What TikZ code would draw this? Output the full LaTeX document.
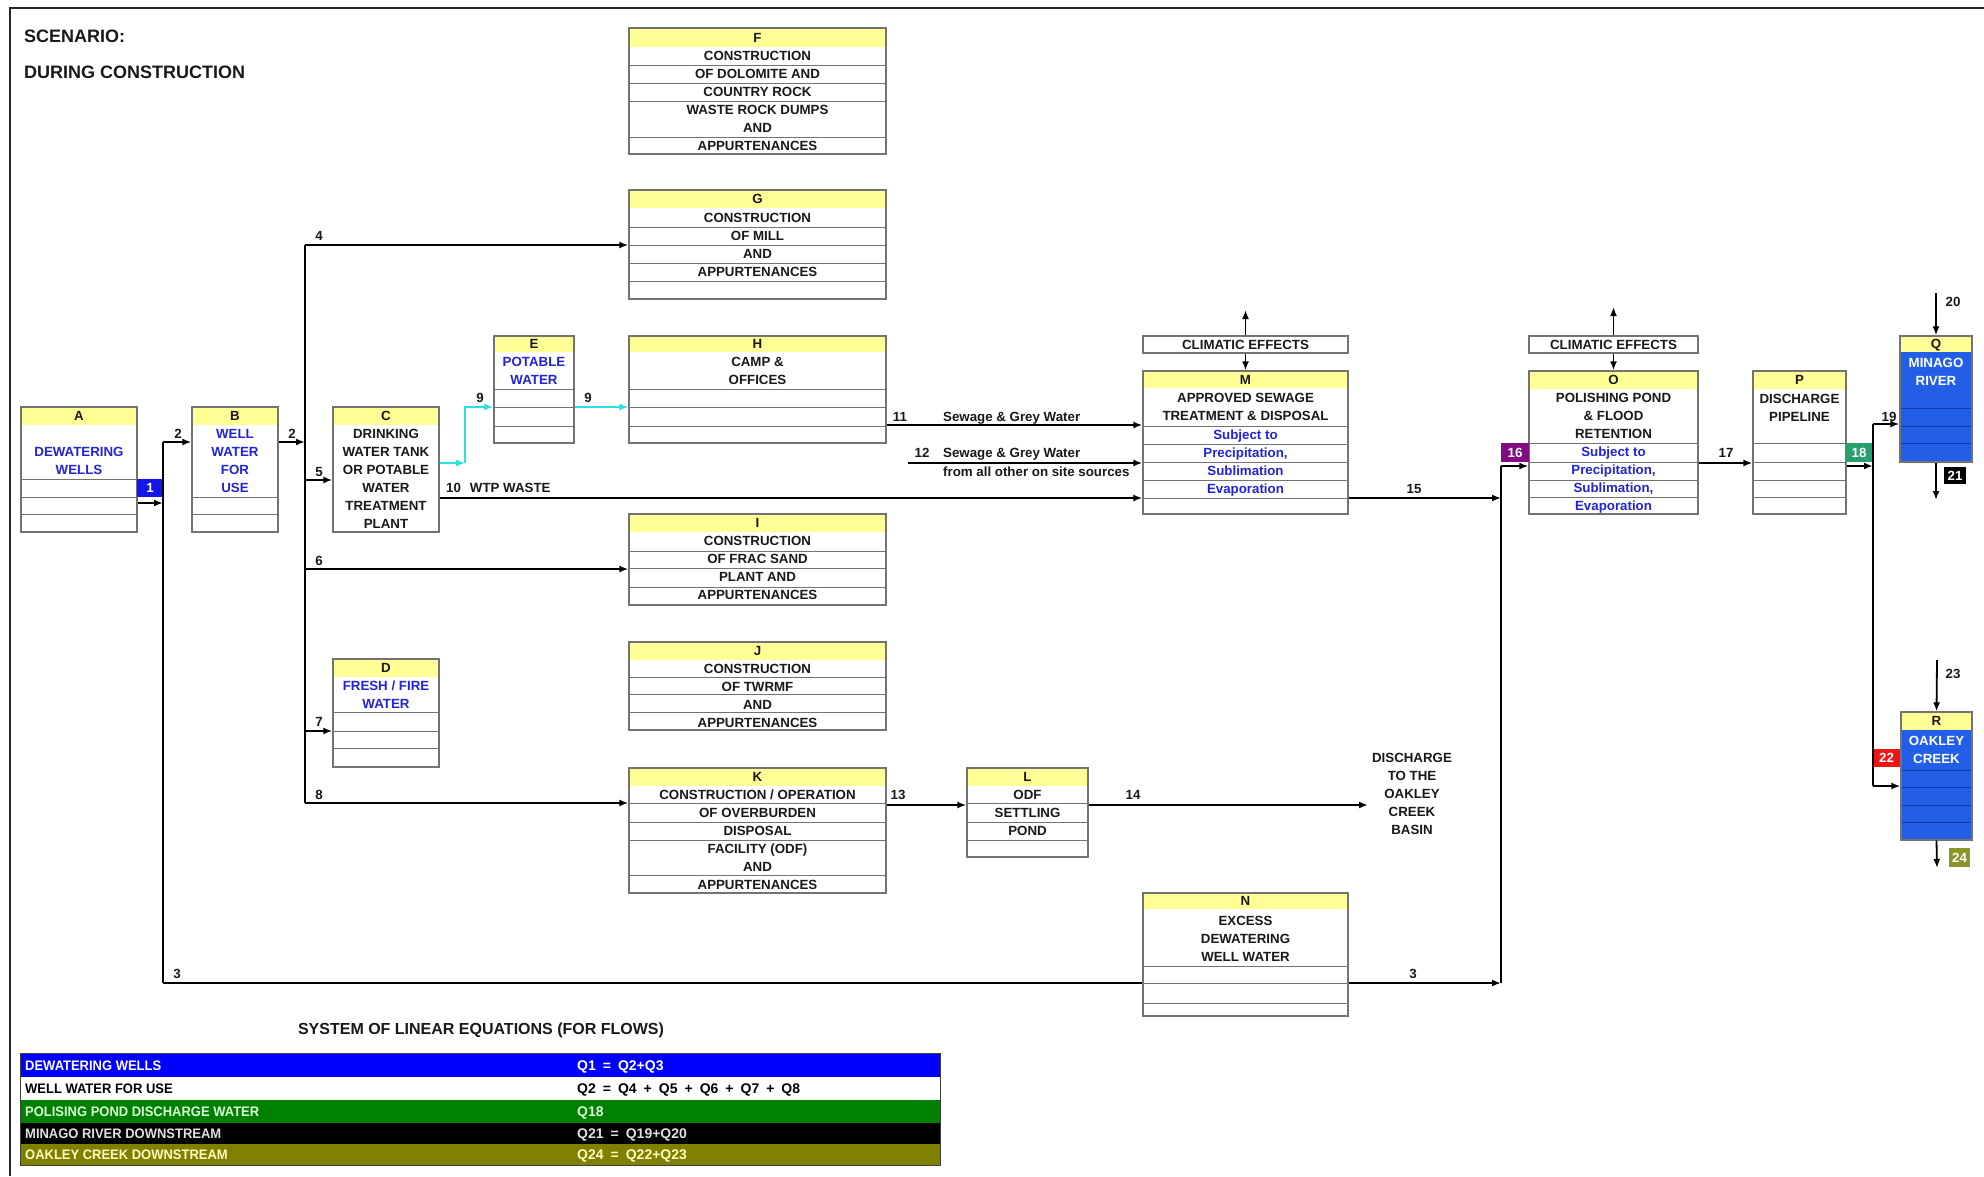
\documentclass[tikz,border=0pt]{standalone}
\usepackage{fontspec}
\setmainfont{Liberation Sans}
\newfontfamily\narrowsans[FakeStretch=0.94]{Liberation Sans}
\usetikzlibrary{arrows.meta,fit}

\definecolor{hdrfill}{RGB}{255,255,150}
\definecolor{framegray}{RGB}{115,115,115}
\definecolor{txtdark}{RGB}{25,25,25}
\definecolor{bluetext}{RGB}{35,35,215}
\definecolor{cyanline}{RGB}{40,225,225}
\definecolor{tagblue}{RGB}{20,20,235}
\definecolor{tagpurple}{RGB}{130,10,130}
\definecolor{taggreen}{RGB}{40,160,110}
\definecolor{tagred}{RGB}{240,20,20}
\definecolor{tagolive}{RGB}{140,150,40}
\definecolor{riverblue}{RGB}{35,95,230}
\definecolor{riverrule}{RGB}{20,55,170}
\definecolor{tblblue}{RGB}{0,0,255}
\definecolor{tblgreen}{RGB}{0,128,0}
\definecolor{tblolive}{RGB}{128,128,0}

% process box: name, x1, y1, x2, y2, header bottom, row rules, header letter
\newcommand{\procbox}[8]{%
  \fill[hdrfill] (#2,#3) rectangle (#4,#6);
  \foreach \ry in {#7}{\draw[rowrule] (#2,\ry) -- (#4,\ry);}
  \node[frame, fit={(#2,#3) (#4,#5)}] (#1) {};
  \node[bt] (#1-hdr) at ({(#2+#4)/2},{(#3+#6)/2}) {#8};
}
% receiving water body: blue body under a yellow header
\newcommand{\riverbox}[8]{%
  \fill[hdrfill] (#2,#3) rectangle (#4,#6);
  \fill[riverblue] (#2,#6) rectangle (#4,#5);
  \foreach \ry in {#7}{\draw[riverrule, line width=1pt] (#2,\ry) -- (#4,\ry);}
  \node[frame, fit={(#2,#3) (#4,#5)}] (#1) {};
  \node[bt] (#1-hdr) at ({(#2+#4)/2},{(#3+#6)/2}) {#8};
}
% lines of text stacked 18 units apart: prefix, x, y of first line, style, lines
\newcommand{\stacktext}[5]{%
  \foreach \t [count=\i] in {#5}{\node[#4] (#1-\i) at (#2,{#3+(\i-1)*18}) {\t};}
}
% equation text with wider word spaces
\newcommand{\eqline}[1]{\spaceskip=0.5em\relax #1}

\begin{document}
\begin{tikzpicture}[x=1pt,y=-1pt,
  frame/.style={draw=framegray, line width=1.3pt, inner sep=0pt},
  rowrule/.style={draw=framegray, line width=1pt},
  bt/.style={font=\bfseries\fontsize{13.3}{16}\selectfont, text=txtdark,
    inner sep=0pt, text height=9.5pt, text depth=0pt},
  bluet/.style={bt, text=bluetext},
  whitet/.style={bt, text=white},
  lbl/.style={bt},
  lblw/.style={bt, anchor=west},
  ln/.style={draw=black, line width=1.8pt},
  arr/.style={ln, -{Latex[length=9pt,width=7pt]}},
  cyanarr/.style={draw=cyanline, line width=1.8pt, -{Latex[length=9pt,width=7pt]}},
  tagbox/.style={inner sep=0pt, draw=none},
  tbltxt/.style={font=\narrowsans\bfseries\fontsize{13.8}{15}\selectfont,
    inner sep=0pt, text height=10pt, text depth=0pt, anchor=west},
  eqtxt/.style={font=\bfseries\fontsize{14}{15}\selectfont,
    inner sep=0pt, text height=10pt, text depth=0pt, anchor=west},
  title/.style={font=\bfseries\fontsize{18}{20}\selectfont, text=txtdark,
    inner sep=0pt, text height=13pt, text depth=0pt, anchor=west}]

\useasboundingbox (0,0) rectangle (1984,1176);
\fill[white] (0,0) rectangle (1984,1176);

% sheet frame
\draw[line width=2.5pt, black!85] (10,1176) -- (10,8) -- (1984,8);

% heading
\node[title] (scen) at (24,35.5) {SCENARIO:};
\node[title] (scen2) at (24,72) {DURING CONSTRUCTION};

% ---------------- process boxes ----------------
\procbox{A}{21}{407}{137}{532}{425}{479,497,514}{A}
\stacktext{A}{79}{452}{bluet}{DEWATERING,WELLS}

\procbox{B}{192}{407}{278}{532}{425}{497,514}{B}
\stacktext{B}{235}{434}{bluet}{WELL,WATER,FOR,USE}

\procbox{C}{333}{407}{439}{532}{425}{532}{C}
\stacktext{C}{386}{434}{bt}{DRINKING,WATER TANK,OR POTABLE,WATER,TREATMENT,PLANT}

\procbox{D}{333}{659}{439}{767}{677}{712,731,748}{D}
\stacktext{D}{386}{686}{bluet}{FRESH / FIRE,WATER}

\procbox{E}{494}{336}{574}{443}{352}{389,407,426}{E}
\stacktext{E}{534}{362}{bluet}{POTABLE,WATER}

\procbox{F}{629}{28}{886}{154}{47}{65,83,101,137}{F}
\stacktext{F}{757.5}{56}{bt}{CONSTRUCTION,OF DOLOMITE AND,COUNTRY ROCK,WASTE ROCK DUMPS,AND,APPURTENANCES}

\procbox{G}{629}{190}{886}{299}{208}{227,245,263,281}{G}
\stacktext{G}{757.5}{218}{bt}{CONSTRUCTION,OF MILL,AND,APPURTENANCES}

\procbox{H}{629}{336}{886}{443}{352}{389,407,426}{H}
\stacktext{H}{757.5}{362}{bt}{CAMP \&,OFFICES}

\procbox{I}{629}{514}{886}{605}{532}{551,568,587}{I}
\stacktext{I}{757.5}{541}{bt}{CONSTRUCTION,OF FRAC SAND,PLANT AND,APPURTENANCES}

\procbox{J}{629}{642}{886}{730}{660}{677,694,712}{J}
\stacktext{J}{757.5}{668.5}{bt}{CONSTRUCTION,OF TWRMF,AND,APPURTENANCES}

\procbox{K}{629}{768}{886}{893}{786}{803,822,840,875}{K}
\stacktext{K}{757.5}{795}{bt}{CONSTRUCTION / OPERATION,OF OVERBURDEN,DISPOSAL,FACILITY (ODF),AND,APPURTENANCES}

\procbox{L}{967}{768}{1088}{857}{786}{803,822,840}{L}
\stacktext{L}{1027.5}{795}{bt}{ODF,SETTLING,POND}

\node[frame, fit={(1143,336) (1348,353)}] (climM) {};
\node[bt] (climM-t) at (climM.center) {CLIMATIC EFFECTS};
\procbox{M}{1143}{371}{1348}{514}{388}{426,444,462,480,498}{M}
\stacktext{M}{1245.5}{398}{bt}{APPROVED SEWAGE,TREATMENT \& DISPOSAL}
\stacktext{Mb}{1245.5}{435}{bluet}{Subject to,{Precipitation,},Sublimation,Evaporation}

\procbox{N}{1143}{893}{1348}{1016}{909}{966,983,1003}{N}
\stacktext{N}{1245.5}{921}{bt}{EXCESS,DEWATERING,WELL WATER}

\node[frame, fit={(1529,336) (1698,353)}] (climO) {};
\node[bt] (climO-t) at (climO.center) {CLIMATIC EFFECTS};
\procbox{O}{1529}{371}{1698}{514}{389}{443,462,480,497}{O}
\stacktext{O}{1613.5}{398}{bt}{POLISHING POND,\& FLOOD,RETENTION}
\stacktext{Ob}{1613.5}{452}{bluet}{Subject to,{Precipitation,},{Sublimation,},Evaporation}

\procbox{P}{1753}{371}{1846}{514}{389}{443,462,480,497}{P}
\stacktext{P}{1799.5}{399}{bt}{DISCHARGE,PIPELINE}

\riverbox{Q}{1900}{336}{1972}{462}{352}{408,426,443}{Q}
\stacktext{Q}{1936}{363}{whitet}{MINAGO,RIVER}

\riverbox{R}{1901}{712}{1972}{840}{730}{770,787,805,822}{R}
\stacktext{R}{1936.5}{741}{whitet}{OAKLEY,CREEK}

\node[bt, align=center] (basin) at (1412,758) {DISCHARGE};
\stacktext{basin}{1412}{776}{bt}{TO THE,OAKLEY,CREEK,BASIN}

% ---------------- flow tags ----------------
\node[tagbox, fill=tagblue, fit={(137,479) (163,497)}] (tag1) {};
\node[whitet] at (tag1.center) (tag1-t) {1};
\node[tagbox, fill=tagpurple, fit={(1501,443) (1529,462)}] (tag16) {};
\node[whitet] at (tag16.center) (tag16-t) {16};
\node[tagbox, fill=taggreen, fit={(1846,443) (1872,462)}] (tag18) {};
\node[whitet] at (tag18.center) (tag18-t) {18};
\node[tagbox, fill=black, fit={(1944,467) (1966,484)}] (tag21) {};
\node[whitet] at (tag21.center) (tag21-t) {21};
\node[tagbox, fill=tagred, fit={(1873,749) (1900,767)}] (tag22) {};
\node[whitet] at (tag22.center) (tag22-t) {22};
\node[tagbox, fill=tagolive, fit={(1949,848) (1970,867)}] (tag24) {};
\node[whitet] at (tag24.center) (tag24-t) {24};

% ---------------- junction points ----------------
\coordinate (tA) at (163,442);
\coordinate (bA) at (163,983);
\coordinate (oA) at (163,503);
\coordinate (tB) at (305,245);
\coordinate (bB) at (305,803);
\coordinate (iB) at (305,442);
\coordinate (j5) at (305,480);
\coordinate (j6) at (305,569);
\coordinate (j7) at (305,731);
\coordinate (c9a) at (465,463);
\coordinate (c9b) at (465,407);
\coordinate (w10) at (439,498);
\coordinate (w11) at (886,425);
\coordinate (s12) at (908,463);
\coordinate (w13) at (886,805);
\coordinate (e14) at (1368,805);
\coordinate (t16) at (1501,466);
\coordinate (b16) at (1501,983);
\coordinate (j15) at (1501,498);
\coordinate (w17) at (1698,463);
\coordinate (t19) at (1873,424);
\coordinate (j18) at (1873,466);
\coordinate (b19) at (1873,786);
\coordinate (s20) at (1936,293);
\coordinate (e21) at (1936,500);
\coordinate (s23) at (1937,660);
\coordinate (e24) at (1937,868);
\coordinate (upM) at (1245.5,310);
\coordinate (upO) at (1613.5,307);

% ---------------- connectors ----------------
\draw[arr] (oA -| A.east) -- (oA);
\draw[ln] (tA) -- (bA);
\draw[arr] (tA) -- (tA -| B.west);
\draw[arr] (iB -| B.east) -- (iB);
\draw[ln] (tB) -- (bB);
\draw[arr] (tB) -- (tB -| G.west);
\draw[arr] (j5) -- (j5 -| C.west);
\draw[arr] (j6) -- (j6 -| I.west);
\draw[arr] (j7) -- (j7 -| D.west);
\draw[arr] (bB) -- (bB -| K.west);

\draw[cyanarr] (c9a -| C.east) -- (c9a);
\draw[cyanarr] (c9a) -- (c9b) -- (c9b -| E.west);
\draw[cyanarr] (c9b -| E.east) -- (c9b -| H.west);

\draw[arr] (w10 -| C.east) -- (w10 -| M.west);
\draw[arr] (w11 -| H.east) -- (w11 -| M.west);
\draw[arr] (s12) -- (s12 -| M.west);
\draw[arr] (w13 -| K.east) -- (w13 -| L.west);
\draw[arr] (w13 -| L.east) -- (e14);

\draw[ln] (bA) -- (bA -| N.west);
\draw[arr] (b16 -| N.east) -- (b16);
\draw[arr] (j15 -| M.east) -- (j15);
\draw[ln] (t16) -- (b16);
\draw[arr] (t16) -- (t16 -| O.west);

\draw[arr] (climM.north) -- (upM);
\draw[arr] (climM.south) -- (M.north);
\draw[arr] (climO.north) -- (upO);
\draw[arr] (climO.south) -- (O.north);

\draw[arr] (w17 -| O.east) -- (w17 -| P.west);
\draw[arr] (j18 -| P.east) -- (j18);
\draw[ln] (t19) -- (b19);
\draw[arr] (t19) -- (t19 -| Q.west);
\draw[arr] (b19) -- (b19 -| R.west);
\draw[arr] (s20) -- (Q.north);
\draw[arr] (Q.south) -- (e21);
\draw[arr] (s23) -- (R.north);
\draw[arr] (R.south) -- (e24);

% ---------------- flow numbers ----------------
\node[lbl] (n2a) at (178,434) {2};
\node[lbl] (n2b) at (292,434) {2};
\node[lbl] (n3a) at (177,974) {3};
\node[lbl] (n3b) at (1413,974) {3};
\node[lbl] (n4) at (319,236) {4};
\node[lbl] (n5) at (319,472) {5};
\node[lbl] (n6) at (319,561) {6};
\node[lbl] (n7) at (319,722) {7};
\node[lbl] (n8) at (319,795) {8};
\node[lbl] (n9a) at (480,398) {9};
\node[lbl] (n9b) at (588,398) {9};
\node[lblw] (n10) at (446,488) {10\hspace{9pt}WTP WASTE};
\node[lbl] (n11) at (900,417) {11};
\node[lblw] (n11t) at (943,417) {Sewage \& Grey Water};
\node[lbl] (n12) at (922,453) {12};
\node[lblw] (n12t) at (943,453) {Sewage \& Grey Water};
\node[lblw] (n12u) at (943,472) {from all other on site sources};
\node[lbl] (n13) at (898,795) {13};
\node[lbl] (n14) at (1133,795) {14};
\node[lbl] (n15) at (1414,489) {15};
\node[lbl] (n17) at (1726,453) {17};
\node[lbl] (n19) at (1889,417) {19};
\node[lbl] (n20) at (1953,302) {20};
\node[lbl] (n23) at (1953,674) {23};

% ---------------- flow equations ----------------
\node[font=\bfseries\fontsize{16}{18}\selectfont, text=txtdark, inner sep=0pt,
  text height=11.5pt, text depth=0pt] (eqtitle) at (481,1029)
  {SYSTEM OF LINEAR EQUATIONS (FOR FLOWS)};
\node[tagbox, fill=tblblue, fit={(21,1054) (940,1077)}] (row1) {};
\node[tagbox, fill=white, fit={(21,1077) (940,1100)}] (row2) {};
\node[tagbox, fill=tblgreen, fit={(21,1100) (940,1123)}] (row3) {};
\node[tagbox, fill=black, fit={(21,1123) (940,1144)}] (row4) {};
\node[tagbox, fill=tblolive, fit={(21,1144) (940,1165)}] (row5) {};
\draw[line width=1.2pt, black!75] (row1.north west) rectangle (row5.south east);

\node[tbltxt, text=white] (row1-a) at (25,1065.5) {DEWATERING WELLS};
\node[eqtxt, text=white] (row1-b) at (577,1065.5) {\eqline{Q1 = Q2+Q3}};
\node[tbltxt, text=black] (row2-a) at (25,1088.5) {WELL WATER FOR USE};
\node[eqtxt, text=black] (row2-b) at (577,1088.5) {\eqline{Q2 = Q4 + Q5 + Q6 + Q7 + Q8}};
\node[tbltxt, text=green!15!white] (row3-a) at (25,1111.5) {POLISING POND DISCHARGE WATER};
\node[eqtxt, text=green!15!white] (row3-b) at (577,1111.5) {Q18};
\node[tbltxt, text=black!12] (row4-a) at (25,1133.5) {MINAGO RIVER DOWNSTREAM};
\node[eqtxt, text=black!12] (row4-b) at (577,1133.5) {\eqline{Q21 = Q19+Q20}};
\node[tbltxt, text=yellow!25!white] (row5-a) at (25,1154.5) {OAKLEY CREEK DOWNSTREAM};
\node[eqtxt, text=yellow!25!white] (row5-b) at (577,1154.5) {\eqline{Q24 = Q22+Q23}};

\end{tikzpicture}
\end{document}
